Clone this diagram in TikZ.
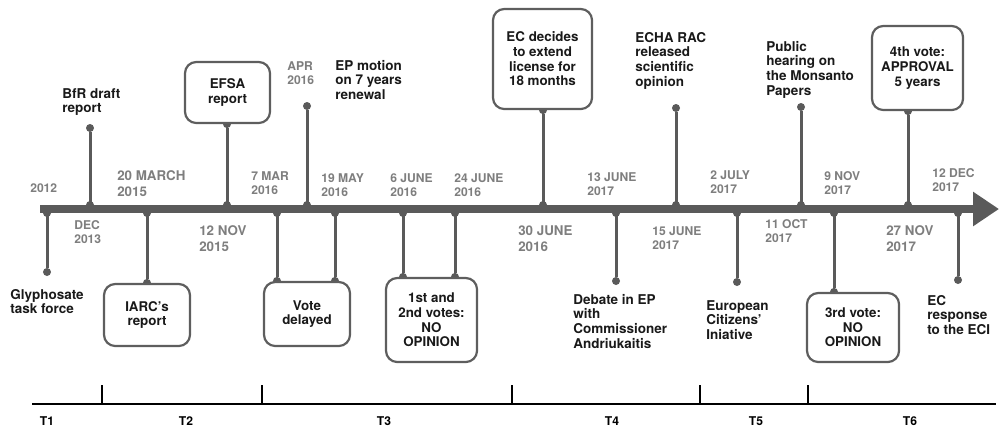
\documentclass[tikz,border=0pt]{standalone}
\usepackage{fontspec}
\setmainfont{TeX Gyre Heros}
\usetikzlibrary{arrows.meta,backgrounds}
\definecolor{linegray}{HTML}{5A5A5A}
\definecolor{dategray}{HTML}{7E7E7E}
\definecolor{boxgray}{HTML}{5E5E5E}
\tikzset{
  stem/.style={linegray, line width=0.075cm},
  dot/.style={circle, fill=linegray, inner sep=0pt, minimum size=0.2cm},
  datelbl/.style={anchor=north west, inner sep=0pt, align=left, text=dategray,
    font=\fontsize{8.6}{10.4}\selectfont\bfseries},
  bigdate/.style={datelbl, font=\fontsize{9.5}{11.4}\selectfont\bfseries},
  evtlbl/.style={anchor=north west, inner sep=0pt, align=left, text=black!90,
    font=\fontsize{9.6}{10.4}\selectfont\bfseries},
  evbox/.style={draw=boxgray, line width=0.055cm, rounded corners=0.28cm, fill=white,
    align=center, inner sep=0pt, text=black!90, font=\fontsize{9.5}{10.4}\selectfont\bfseries},
  period/.style={font=\fontsize{8.6}{10}\selectfont\bfseries}
}
\begin{document}
\begin{tikzpicture}[x=0.025cm,y=-0.025cm]
\useasboundingbox (0,0) rectangle (999,430);
%
% main time line
\coordinate (start) at (40,209);
\coordinate (end) at (999,209);
\draw[linegray,line width=0.2cm,-{Triangle[length=0.65cm,width=0.82cm]}] (start)--(end);
%
% points on the line
\coordinate (a2012) at (47,213);
\coordinate (a2013) at (90,205);
\coordinate (a2015m) at (147,213);
\coordinate (a2015n) at (227,205);
\coordinate (a2016m) at (277,213);
\coordinate (a2016a) at (307,205);
\coordinate (a2016y) at (335,213);
\coordinate (a2016j) at (403,213);
\coordinate (a2016k) at (455,213);
\coordinate (a2016e) at (543,205);
\coordinate (a2017j) at (616,213);
\coordinate (a2017k) at (676,205);
\coordinate (a2017l) at (737,213);
\coordinate (a2017o) at (801,205);
\coordinate (a2017n) at (834,213);
\coordinate (a2017v) at (908,205);
\coordinate (a2017d) at (958,213);
%
% boxes
\node[evbox,minimum width=2.15cm,minimum height=1.55cm] (iarc) at (147,315) {IARC's\\report};
\node[evbox,minimum width=2.125cm,minimum height=1.525cm] (efsa) at (227.5,92.5) {EFSA\\report};
\node[evbox,minimum width=2.15cm,minimum height=1.6cm] (delay) at (307,314) {Vote\\delayed};
\node[evbox,minimum width=2.275cm,minimum height=2.1cm] (vote12) at (431.5,320) {1st and\\2nd votes:\\NO\\OPINION};
\node[evbox,minimum width=2.475cm,minimum height=2.5cm] (extend) at (542.5,59) {EC decides\\to extend\\license for\\18 months};
\node[evbox,minimum width=2.3cm,minimum height=1.725cm] (vote3) at (853,327.5) {3rd vote:\\NO\\OPINION};
\node[evbox,minimum width=2.275cm,minimum height=2.1cm] (vote4) at (917.5,68) {4th vote:\\APPROVAL\\5 years};
%
% stems, behind the boxes
\begin{scope}[on background layer]
\node[dot] (b2012) at (47,272) {};
\draw[stem] (a2012)--(b2012);
\node[dot] (b2013) at (90,128) {};
\draw[stem] (a2013)--(b2013);
\node[dot] (b2015m) at (a2015m |- iarc.north) {};
\draw[stem] (a2015m)--(b2015m);
\node[dot] (b2015n) at (a2015n |- efsa.south) {};
\draw[stem] (a2015n)--(b2015n);
\node[dot] (b2016m) at (a2016m |- delay.north) {};
\draw[stem] (a2016m)--(b2016m);
\node[dot] (b2016a) at (307,106) {};
\draw[stem] (a2016a)--(b2016a);
\node[dot] (b2016y) at (a2016y |- delay.north) {};
\draw[stem] (a2016y)--(b2016y);
\node[dot] (b2016j) at (a2016j |- vote12.north) {};
\draw[stem] (a2016j)--(b2016j);
\node[dot] (b2016k) at (a2016k |- vote12.north) {};
\draw[stem] (a2016k)--(b2016k);
\node[dot] (b2016e) at (a2016e |- extend.south) {};
\draw[stem] (a2016e)--(b2016e);
\node[dot] (b2017j) at (616,281) {};
\draw[stem] (a2017j)--(b2017j);
\node[dot] (b2017k) at (676,108) {};
\draw[stem] (a2017k)--(b2017k);
\node[dot] (b2017l) at (737,282) {};
\draw[stem] (a2017l)--(b2017l);
\node[dot] (b2017o) at (801,107) {};
\draw[stem] (a2017o)--(b2017o);
\node[dot] (b2017n) at (a2017n |- vote3.north) {};
\draw[stem] (a2017n)--(b2017n);
\node[dot] (b2017v) at (a2017v |- vote4.south) {};
\draw[stem] (a2017v)--(b2017v);
\node[dot] (b2017d) at (958,280) {};
\draw[stem] (a2017d)--(b2017d);
\end{scope}
%
% dots on the line
\foreach \p in {a2012,a2013,a2015m,a2015n,a2016m,a2016a,a2016y,a2016j,a2016k,
  a2016e,a2017j,a2017k,a2017l,a2017o,a2017n,a2017v,a2017d}
  \node[dot] (j\p) at (\p) {};
%
% dates
\node[datelbl] (d2012) at (30,183) {2012};
\node[datelbl] (d2013) at (74,220) {DEC\\2013};
\node[bigdate] (d2015m) at (117,170) {20 MARCH\\2015};
\node[bigdate] (d2015n) at (199,225) {12 NOV\\2015};
\node[datelbl] (d2016m) at (251,171) {7 MAR\\2016};
\node[datelbl] (d2016a) at (287,61) {APR\\2016};
\node[datelbl] (d2016y) at (321,173) {19 MAY\\2016};
\node[datelbl] (d2016j) at (390,173) {6 JUNE\\2016};
\node[datelbl] (d2016k) at (454,173) {24 JUNE\\2016};
\node[bigdate] (d2016e) at (518,225) {30 JUNE\\2016};
\node[datelbl] (d2017j) at (587,172) {13 JUNE\\2017};
\node[datelbl] (d2017k) at (652,226) {15 JUNE\\2017};
\node[datelbl] (d2017l) at (710,170) {2 JULY\\2017};
\node[datelbl] (d2017o) at (765,219) {11 OCT\\2017};
\node[datelbl] (d2017n) at (824,171) {9 NOV\\2017};
\node[bigdate] (d2017v) at (886,225) {27 NOV\\2017};
\node[datelbl] (d2017d) at (932,168) {12 DEC\\2017};
%
% events
\node[evtlbl] (e2012) at (10,289) {Glyphosate\\task force};
\node[evtlbl] (e2013) at (62,88) {BfR draft\\report};
\node[evtlbl] (e2016a) at (335,60) {EP motion\\on 7 years\\renewal};
\node[evtlbl] (e2017j) at (573,294) {Debate in EP\\with\\Commissioner\\Andriukaitis};
\node[evtlbl] (e2017k) at (635,32) {ECHA RAC\\released\\scientific\\opinion};
\node[evtlbl] (e2017l) at (706,300) {European\\Citizens'\\Iniative};
\node[evtlbl] (e2017o) at (766,41) {Public\\hearing on\\the Monsanto\\Papers};
\node[evtlbl] (e2017d) at (927,295) {EC\\response\\to the ECI};
%
% periods
\coordinate (p0) at (32,404);
\coordinate (p6) at (996,404);
\draw[line width=0.05cm] (p0)--(p6);
\foreach \x in {102,262,512,700,808}
  \draw[line width=0.04cm] (\x,404)--(\x,385);
\node[period] (T1) at (47,421) {T1};
\node[period] (T2) at (186,421) {T2};
\node[period] (T3) at (384,421) {T3};
\node[period] (T4) at (612,421) {T4};
\node[period] (T5) at (756,421) {T5};
\node[period] (T6) at (910,421) {T6};
\end{tikzpicture}
\end{document}
